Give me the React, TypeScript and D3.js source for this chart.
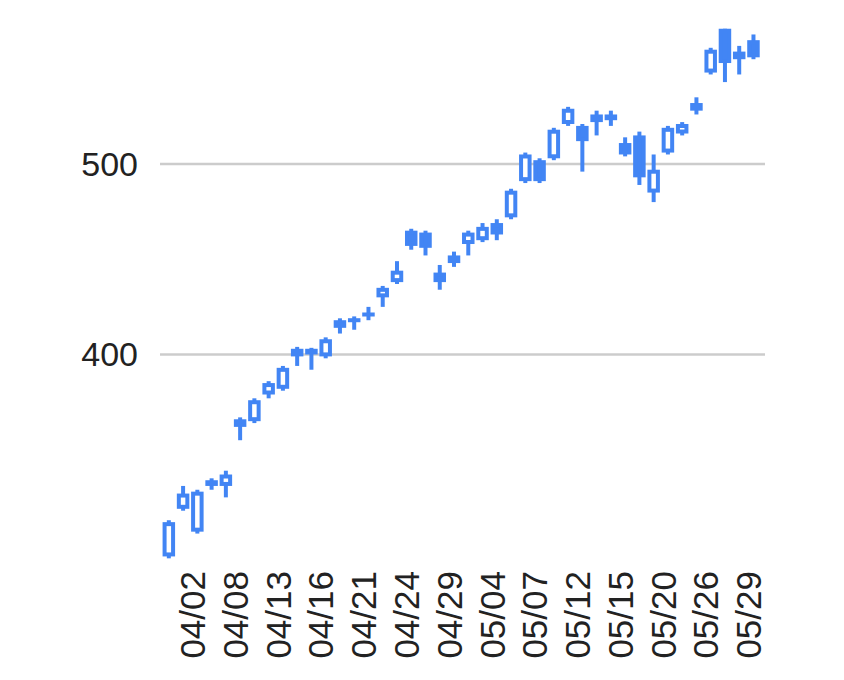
import React from "react";
import * as d3 from "d3";

const dates = ["03/31","04/01","04/02","04/06","04/07","04/08","04/09","04/10","04/13","04/14","04/15","04/16","04/17","04/20","04/21","04/22","04/23","04/24","04/27","04/28","04/29","04/30","05/01","05/04","05/05","05/06","05/07","05/08","05/11","05/12","05/13","05/14","05/15","05/18","05/19","05/20","05/21","05/22","05/26","05/27","05/28","05/29"];
const opens = [294,319,307,334,331,366,365,379,382,399,403,399,418,419,422,430,438,465,464,443,448,458,460,469,472,491,502,503,521,520,526,526,511,515,485,506,516,528,548,571,555,565];
const highs = [313,331,329,335,339,367,377,386,394,404,403.5,409,419,420,425,436,449,466,465,447,454,465,469,471,487,506,503,519,530,521,528,528,514,517,505,520,522,535,561,571,562,568];
const lows = [293,318,306,329,325,355,364,377,381,394,392,398,411,413,418,425,437,455,452,434,446,452,459,460,471,490,490,502,520,496,515,520,504,489,480,505,515,526,547,543,547,555];
const closes = [312,327,328,331,337,362,376,385,393,403,400,408,414,417,420,435,444,457,456,438,452,464,467,463,486,505,491,518,529,512,522,523,505,493,497,519,521,532,560,553,559,556];
const yTicks = [400, 500];

const W = 844;
const H = 680;
const BLUE = "#4285f4";
const FONT = "'Liberation Sans', Arial, sans-serif";

export default function App() {
  const x = d3.scaleBand<string>().domain(dates).range([161.7, 760.6]).padding(0);
  const y = d3.scaleLinear().domain([400, 500]).range([354.5, 164]);
  const bw = 12.5;
  const sw = 4;
  const cx = (d: string) => (x(d) as number) + x.bandwidth() / 2;

  return (
    <svg width={W} height={H} style={{ position: "absolute", left: 0, top: 0, background: "#fff" }}>
      {yTicks.map((t) => (
        <g key={t}>
          <line x1={160} x2={765} y1={y(t)} y2={y(t)} stroke="#cccccc" strokeWidth={2.5} />
          <text x={138} y={y(t)} dy="0.35em" textAnchor="end" fontFamily={FONT} fontSize={34} fill="#222">
            {t}
          </text>
        </g>
      ))}
      {dates.map((d, i) => {
        const o = opens[i], c = closes[i], h = highs[i], l = lows[i];
        const rising = c > o;
        const top = y(Math.max(o, c));
        const bot = y(Math.min(o, c));
        const hgt = Math.max(0.01, bot - top - sw);
        const ry = hgt <= 0.01 ? (top + bot) / 2 : top + sw / 2;
        return (
          <g key={d}>
            <line x1={cx(d)} x2={cx(d)} y1={y(h)} y2={y(l)} stroke={BLUE} strokeWidth={sw} />
            <rect
              x={cx(d) - bw / 2 + sw / 2}
              y={ry}
              width={bw - sw}
              height={hgt}
              fill={rising ? "#fff" : BLUE}
              stroke={BLUE}
              strokeWidth={sw}
            />
          </g>
        );
      })}
      {dates.map((d, i) =>
        i % 3 === 2 ? (
          <text
            key={"l" + d}
            transform={`translate(${cx(d)},571) rotate(-90)`}
            dy="0.22em"
            textAnchor="end"
            fontFamily={FONT}
            fontSize={35}
            fill="#222"
          >
            {d}
          </text>
        ) : null
      )}
    </svg>
  );
}
